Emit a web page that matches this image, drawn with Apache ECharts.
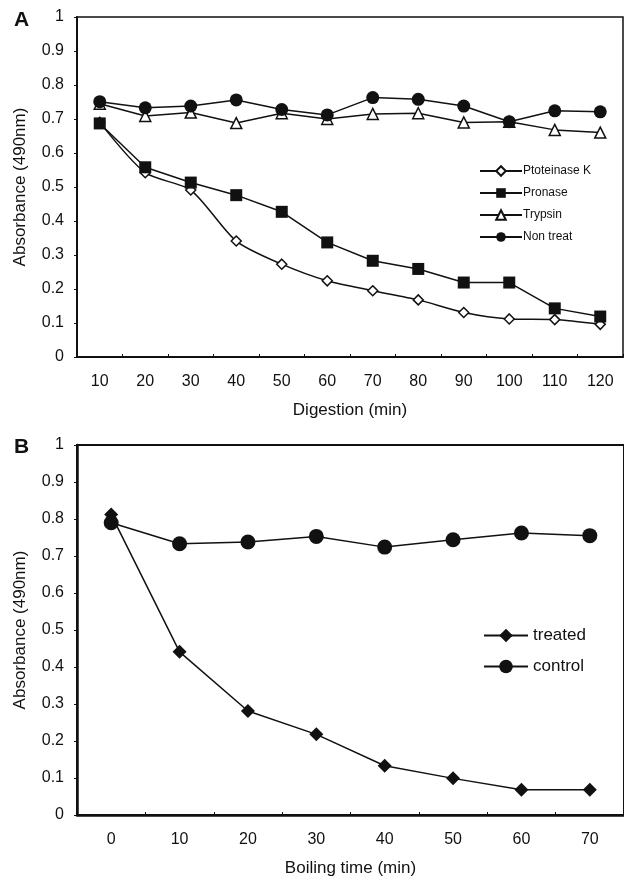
<!DOCTYPE html>
<html>
<head>
<meta charset="utf-8">
<script src="https://cdn.jsdelivr.net/npm/echarts@6/dist/echarts.min.js"></script>
<style>
  html, body { margin: 0; padding: 0; background: #fff; }
  #chart { width: 624px; height: 878px; }
</style>
</head>
<body>
<div id="chart"></div>
<script>
// panel A: digestion time course
const digestMin = ['10', '20', '30', '40', '50', '60', '70', '80', '90', '100', '110', '120']
const proteinaseK = [0.69, 0.542, 0.491, 0.341, 0.273, 0.224, 0.195, 0.168, 0.131, 0.112, 0.110, 0.096]
const pronase = [0.687, 0.558, 0.513, 0.476, 0.427, 0.337, 0.283, 0.259, 0.219, 0.219, 0.143, 0.119]
const trypsin = [0.745, 0.709, 0.719, 0.688, 0.717, 0.700, 0.715, 0.717, 0.690, 0.692, 0.668, 0.660]
const nonTreat = [0.751, 0.733, 0.738, 0.756, 0.728, 0.712, 0.763, 0.758, 0.738, 0.692, 0.724, 0.721]

// panel B: boiling time course
const boilMin = ['0', '10', '20', '30', '40', '50', '60', '70']
const treated = [0.812, 0.441, 0.281, 0.218, 0.133, 0.099, 0.068, 0.068]
const control = [0.790, 0.733, 0.738, 0.753, 0.724, 0.744, 0.762, 0.755]

const FONT = '"Liberation Sans", Arial, sans-serif'
const BLACK = '#111'

const chart = echarts.init(document.getElementById('chart'))

function yAxis(gridIndex, lineWidth) {
  return {
    type: 'value',
    gridIndex,
    min: 0,
    max: 1,
    interval: 0.1,
    name: 'Absorbance (490nm)',
    nameLocation: 'middle',
    nameGap: 48,
    nameTextStyle: { fontFamily: FONT, fontSize: 17, color: BLACK },
    axisLine: { show: true, lineStyle: { color: BLACK, width: lineWidth } },
    axisTick: { show: true, length: 3, lineStyle: { color: BLACK } },
    axisLabel: { fontFamily: FONT, fontSize: 16, color: BLACK, margin: 13 },
    splitLine: { show: false }
  }
}

function xAxis(gridIndex, data, name, lineWidth) {
  return {
    type: 'category',
    gridIndex,
    data,
    boundaryGap: true,
    name,
    nameLocation: 'middle',
    nameGap: 45,
    nameTextStyle: { fontFamily: FONT, fontSize: 17, color: BLACK },
    axisLine: { show: true, lineStyle: { color: BLACK, width: lineWidth } },
    axisTick: { show: true, inside: true, length: 3, lineStyle: { color: BLACK } },
    axisLabel: { fontFamily: FONT, fontSize: 16, color: BLACK, margin: 17 },
    splitLine: { show: false }
  }
}

function line(name, data, idx, symbol, size, filled, smooth) {
  return {
    name,
    type: 'line',
    xAxisIndex: idx,
    yAxisIndex: idx,
    data,
    symbol,
    symbolSize: size,
    smooth: smooth || false,
    showAllSymbol: true,
    lineStyle: { color: BLACK, width: 1.5 },
    itemStyle: {
      color: filled ? BLACK : '#fff',
      borderColor: BLACK,
      borderWidth: filled ? 0 : 1.5
    },
    emphasis: { disabled: true }
  }
}

const option = {
  animation: false,
  backgroundColor: '#fff',
  title: [
    { text: 'A', left: 9, top: 5, textStyle: { fontFamily: FONT, fontSize: 21, fontWeight: 'bold', color: BLACK } },
    { text: 'B', left: 9, top: 432, textStyle: { fontFamily: FONT, fontSize: 21, fontWeight: 'bold', color: BLACK } }
  ],
  grid: [
    { left: 77, top: 17, width: 546, height: 340, show: true, borderColor: BLACK, borderWidth: 1.5, backgroundColor: 'transparent' },
    { left: 77, top: 445, width: 562, height: 371, show: true, borderColor: BLACK, borderWidth: 2, backgroundColor: 'transparent' }
  ],
  legend: [
    {
      data: ['Ptoteinase K', 'Pronase', 'Trypsin', 'Non treat'],
      orient: 'vertical',
      left: 474,
      top: 160,
      itemWidth: 42,
      itemHeight: 12,
      itemGap: 10,
      textStyle: { fontFamily: FONT, fontSize: 12, color: BLACK, padding: [0, 0, 0, -4] }
    },
    {
      data: ['treated', 'control'],
      orient: 'vertical',
      left: 478,
      top: 622,
      itemWidth: 44,
      itemHeight: 17,
      itemGap: 14,
      textStyle: { fontFamily: FONT, fontSize: 17, color: BLACK }
    }
  ],
  xAxis: [
    xAxis(0, digestMin, 'Digestion (min)', 2),
    xAxis(1, boilMin, 'Boiling time (min)', 2.5)
  ],
  yAxis: [yAxis(0, 2), yAxis(1, 2.5)],
  series: [
    line('Ptoteinase K', proteinaseK, 0, 'diamond', 10, false, 0.25),
    line('Pronase', pronase, 0, 'rect', 12, true),
    line('Trypsin', trypsin, 0, 'triangle', 11, false),
    line('Non treat', nonTreat, 0, 'circle', 13, true),
    line('treated', treated, 1, 'diamond', 14, true),
    line('control', control, 1, 'circle', 15, true)
  ]
}

chart.setOption(option)
</script>
</body>
</html>
